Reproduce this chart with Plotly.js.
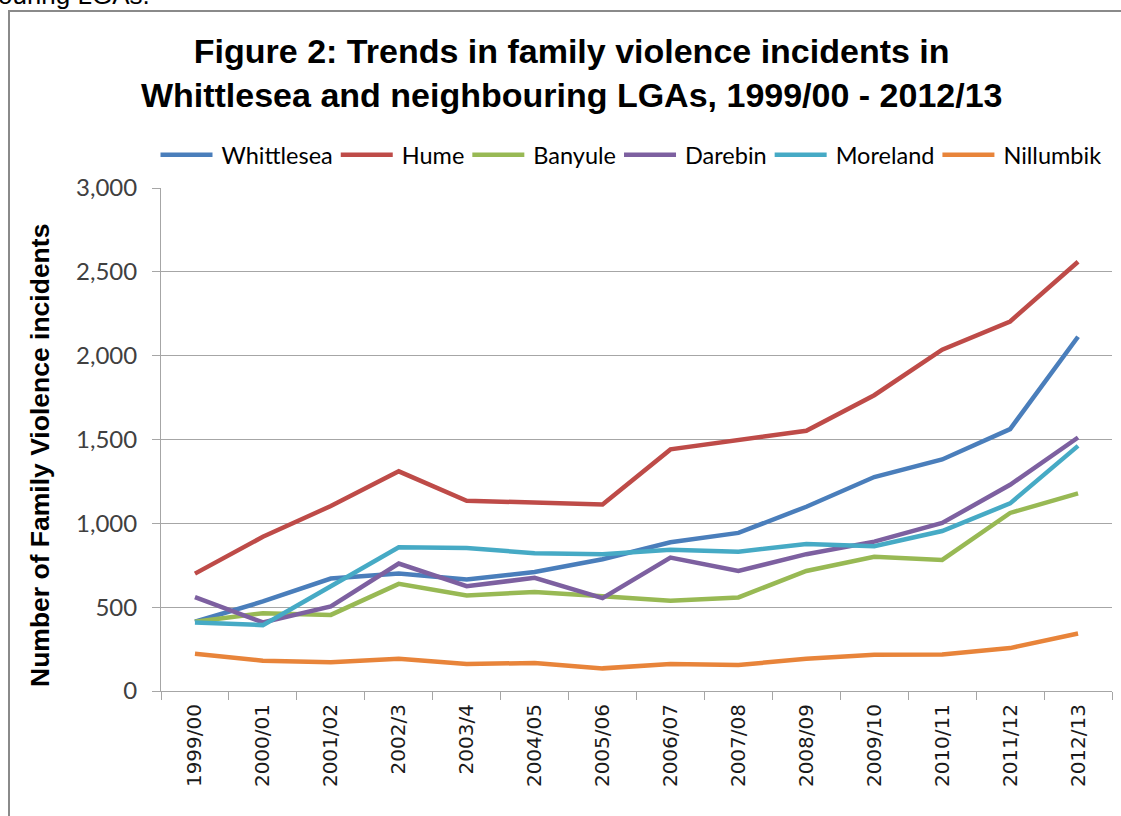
<!DOCTYPE html>
<html>
<head>
<meta charset="utf-8">
<script src="https://cdn.plot.ly/plotly-3.0.1.min.js"></script>
<style>
  html, body { margin: 0; padding: 0; background: #fff; overflow: hidden; }
  #wrap { position: relative; width: 1121px; height: 816px; overflow: hidden; }
  #chart { position: absolute; left: 0; top: 0; width: 1121px; height: 816px; }
  #frame { position: absolute; left: 8px; top: 10px; width: 1130px; height: 830px;
           border-left: 2px solid #8a8a8a; border-top: 2px solid #8a8a8a; pointer-events: none; }
  #doctext { position: absolute; left: -2px; top: -17px; font-family: "Liberation Sans", Arial, sans-serif;
             font-size: 26px; line-height: 25px; color: #000; white-space: nowrap; }
</style>
</head>
<body>
<div id="wrap">
  <div id="chart"></div>
  <div id="frame"></div>
  <div id="doctext">ouring LGAs.</div>
</div>
<script>
const years = ["1999/00","2000/01","2001/02","2002/3","2003/4","2004/05","2005/06",
               "2006/07","2007/08","2008/09","2009/10","2010/11","2011/12","2012/13"];

const whittlesea = [413, 534, 671, 700, 665, 710, 786, 887, 943, 1099, 1276, 1381, 1562, 2113];
const hume       = [700, 920, 1103, 1310, 1135, 1125, 1113, 1441, 1496, 1552, 1764, 2036, 2204, 2560];
const banyule    = [413, 464, 454, 639, 570, 591, 565, 538, 558, 716, 800, 782, 1062, 1179];
const darebin    = [560, 409, 504, 760, 625, 675, 554, 796, 716, 816, 891, 1002, 1230, 1512];
const moreland   = [409, 393, 625, 857, 853, 822, 816, 843, 831, 877, 863, 954, 1119, 1462];
const nillumbik  = [222, 181, 171, 192, 161, 167, 135, 161, 155, 192, 216, 218, 256, 343];

const seriesNames  = ["Whittlesea","Hume","Banyule","Darebin","Moreland","Nillumbik"];
const seriesValues = [whittlesea, hume, banyule, darebin, moreland, nillumbik];
const seriesColors = ["#4A7EBB","#BE4B48","#98B954","#7D60A0","#46AAC5","#E8843A"];

const traces = seriesNames.map((name, i) => ({
  type: "scatter",
  mode: "lines",
  name: name,
  x: years,
  y: seriesValues[i],
  line: { color: seriesColors[i], width: 4.5 },
  hoverinfo: "x+y+name"
}));

const grey = "#a6a6a6";

const layout = {
  width: 1121,
  height: 816,
  paper_bgcolor: "#ffffff",
  plot_bgcolor: "#ffffff",
  margin: { l: 161, r: 9, t: 188, b: 125, pad: 0 },
  title: {
    text: "Figure 2: Trends in family violence incidents in<br>Whittlesea and neighbouring LGAs, 1999/00 - 2012/13",
    font: { family: "Liberation Sans, Arial, sans-serif", size: 34, color: "#000", weight: 700 },
    x: 0.51, xanchor: "center", xref: "container",
    y: 1 - 63 / 816, yanchor: "middle", yref: "container"
  },
  showlegend: true,
  legend: {
    orientation: "h",
    xref: "container", yref: "container",
    x: 632 / 1121, xanchor: "center",
    y: 1 - 155 / 816, yanchor: "middle",
    font: { family: "Lato, Open Sans, sans-serif", size: 23.5, color: "#000" },
    traceorder: "normal",
    itemwidth: 54,
    bgcolor: "rgba(0,0,0,0)"
  },
  xaxis: {
    type: "category",
    range: [-0.5, 13.5],
    tickson: "boundaries",
    ticks: "outside",
    ticklen: 8,
    tickcolor: grey,
    tickwidth: 1,
    showline: true,
    linecolor: grey,
    linewidth: 1,
    showgrid: false,
    tickangle: -90,
    ticklabelstandoff: 4,
    tickfont: { family: "DejaVu Sans, Verdana, sans-serif", size: 20, color: "#1a1a1a" },
    fixedrange: true
  },
  yaxis: {
    range: [0, 3000],
    dtick: 500,
    tick0: 0,
    tickformat: ",d",
    ticks: "outside",
    ticklen: 8,
    tickcolor: grey,
    tickwidth: 1,
    showline: true,
    linecolor: grey,
    linewidth: 1,
    showgrid: true,
    gridcolor: grey,
    gridwidth: 1,
    zeroline: false,
    ticklabelstandoff: 10,
    tickfont: { family: "Lato, Open Sans, sans-serif", size: 24, color: "#404040" },
    fixedrange: true
  },
  annotations: [{
    text: "Number of Family Violence incidents",
    textangle: -90,
    xref: "paper", yref: "paper",
    x: (40 - 161) / 951, y: (691 - 456) / 503,
    xanchor: "center", yanchor: "middle",
    showarrow: false,
    font: { family: "Liberation Sans, Arial, sans-serif", size: 26.5, color: "#000", weight: 700 }
  }]
};

Plotly.newPlot("chart", traces, layout, { displayModeBar: false, staticPlot: true }).then(gd => {
  // lengthen the legend line samples to fill the wider symbol slot (Excel-style legend keys)
  gd.querySelectorAll(".legend .legendlines path").forEach(p => p.setAttribute("d", "M3,0h52"));
});
</script>
</body>
</html>
